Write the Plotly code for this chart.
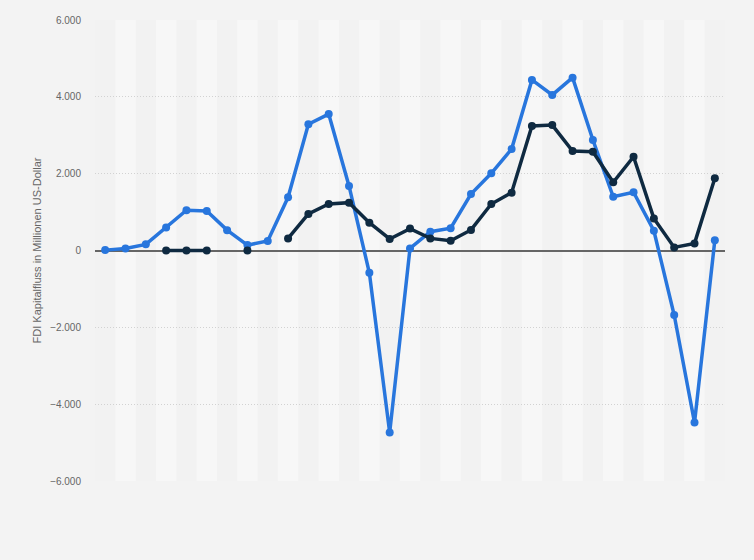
import plotly.graph_objects as go

# Jahre (Kategorien; auf der Achse nicht beschriftet)
years = [str(y) for y in range(1990, 2021)]

# FDI Kapitalfluss in Millionen US-Dollar
inflows = [10, 50, 160, 600, 1050, 1030, 530, 140, 250, 1385,
           3285, 3550, 1680, -580, -4740, 55, 490, 580, 1470, 2010,
           2640, 4440, 4050, 4500, 2875, 1400, 1515, 515, -1680, -4480,
           270]
outflows = [None, None, None, 0, 0, 0, None, 0, None, 315,
            950, 1210, 1245, 725, 300, 570, 315, 255, 535, 1210,
            1505, 3240, 3265, 2590, 2570, 1775, 2440, 835, 80, 185,
            1880]

y_ticks = [-6000, -4000, -2000, 0, 2000, 4000, 6000]

fig = go.Figure()

fig.add_trace(go.Scatter(
    x=years, y=inflows, mode="lines+markers",
    line=dict(color="#2876dd", width=3.5),
    marker=dict(color="#2876dd", size=8),
    connectgaps=False, showlegend=False,
))
fig.add_trace(go.Scatter(
    x=years, y=outflows, mode="lines+markers",
    line=dict(color="#0f2a41", width=3.5),
    marker=dict(color="#0f2a41", size=8),
    connectgaps=False, showlegend=False,
))

# alternating column stripes
shapes = []
for i in range(1, len(years), 2):
    shapes.append(dict(type="rect", xref="x", yref="paper",
                       x0=i - 0.5, x1=i + 0.5, y0=0, y1=1,
                       fillcolor="#f7f7f7", line=dict(width=0), layer="below"))

fig.update_layout(
    width=754, height=560,
    margin=dict(l=95, r=29, t=20, b=79),
    paper_bgcolor="#f3f3f3",
    plot_bgcolor="#f2f2f2",
    separators=",.",
    font=dict(family="Arial, Liberation Sans, sans-serif", color="#666666", size=10),
    shapes=shapes,
)

fig.update_xaxes(
    type="category", showticklabels=False, showgrid=False,
    zeroline=False, showline=False, range=[-0.5, len(years) - 0.5],
)
fig.update_yaxes(
    range=[-6000, 6000], tickvals=y_ticks, tickformat=",d",
    showgrid=True, gridcolor="#d2d2d2", griddash="1px,2px", gridwidth=1,
    zeroline=True, zerolinecolor="#666666", zerolinewidth=1.5,
    ticks="outside", ticklen=11, tickcolor="rgba(0,0,0,0)",
    title=dict(text="FDI Kapitalfluss in Millionen US-Dollar",
               font=dict(size=11, color="#666666"), standoff=6),
    tickfont=dict(size=10, color="#666666"),
)

# drop the page's default 8px body margin so the figure sits at 0,0
fig.write_html("out.html", config={"displayModeBar": False}, post_script=(
    "document.body.style.margin='0';"
    "document.body.style.background='#f3f3f3';"
))
